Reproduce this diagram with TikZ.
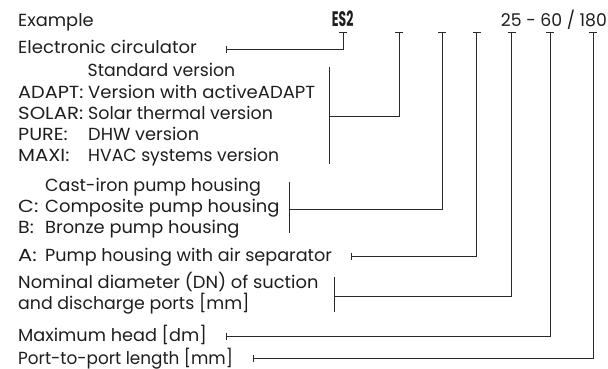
\documentclass[tikz,border=0pt]{standalone}
\usepackage{fontspec}
\usepackage{graphicx}
\setmainfont{Poppins}
\usetikzlibrary{arrows.meta}
\definecolor{txt}{HTML}{1E1E1E}
\definecolor{ln}{HTML}{2A2A2A}
\newcommand{\fs}{\fontsize{17.5}{20}\selectfont}
\newcommand{\fsb}{\fontsize{21}{24}\selectfont\bfseries}
\newcommand{\fitw}[2]{\resizebox{#1pt}{\height}{#2}}
\begin{document}
\begin{tikzpicture}[x=1pt,y=-1pt,
  lbl/.style={anchor=base west, inner sep=0pt, font=\fs, text=txt},
  conn/.style={draw=ln, line width=0.8pt},
  topbar/.style={-{Bar[width=8pt,line width=0.8pt]}},
  bothbar/.style={{Bar[width=7pt,line width=0.8pt]}-{Bar[width=8pt,line width=0.8pt]}}]
\useasboundingbox (0,0) rectangle (608,369);
% header
\node[lbl] (ex) at (18,27) {\fitw{75.5}{Example}};
\node[lbl,font=\fsb] (es2) at (331.7,27) {\fitw{21.5}{ES2}};
\node[lbl] (code) at (500.7,27) {\fitw{106}{25 - 60 / 180}};
% labels
\node[lbl] (elec) at (18,54) {\fitw{178.7}{Electronic circulator}};
\node[lbl] (std) at (87.5,77) {\fitw{147.5}{Standard version}};
\node[lbl] (adk) at (18,99) {\fitw{65.3}{ADAPT:}};
\node[lbl] (adv) at (88,99) {\fitw{227}{Version with activeADAPT}};
\node[lbl] (sok) at (18,119.5) {\fitw{65}{SOLAR:}};
\node[lbl] (sov) at (88,119.5) {\fitw{184.7}{Solar thermal version}};
\node[lbl] (puk) at (18,140) {\fitw{49.5}{PURE:}};
\node[lbl] (puv) at (88,140) {\fitw{111}{DHW version}};
\node[lbl] (mak) at (18,161) {\fitw{51.3}{MAXI:}};
\node[lbl] (mav) at (88,161) {\fitw{191}{HVAC systems version}};
\node[lbl] (cih) at (45,191) {\fitw{215.7}{Cast-iron pump housing}};
\node[lbl] (ck) at (18,212) {\fitw{20.2}{C:}};
\node[lbl] (cv) at (45,212) {\fitw{234.3}{Composite pump housing}};
\node[lbl] (bk) at (18,233.5) {\fitw{15.7}{B:}};
\node[lbl] (bv) at (45,233.5) {\fitw{194.3}{Bronze pump housing}};
\node[lbl] (ak) at (18,261) {\fitw{18.8}{A:}};
\node[lbl] (av) at (45,261) {\fitw{286.7}{Pump housing with air separator}};
\node[lbl] (nom1) at (18,288) {\fitw{300.3}{Nominal diameter (DN) of suction}};
\node[lbl] (nom2) at (18,309) {\fitw{231.3}{and discharge ports [mm]}};
\node[lbl] (mh) at (18,341) {\fitw{188.7}{Maximum head [dm]}};
\node[lbl] (pp) at (18,364) {\fitw{214.7}{Port-to-port length [mm]}};
% top tick points
\coordinate (t1) at (343.3,32.3);
\coordinate (t2) at (399,32.3);
\coordinate (t3) at (442.3,32.3);
\coordinate (t4) at (476.7,32.3);
\coordinate (t5) at (511.7,32.3);
\coordinate (t6) at (550,32.3);
\coordinate (t7) at (593.3,32.3);
% left ends
\coordinate (e1) at (225.7,49.3);
\coordinate (vb1) at (329.7,66.7);
\coordinate (vb2) at (329.7,164.3);
\coordinate (vm) at (329.7,116);
\coordinate (hb1) at (289.3,181.7);
\coordinate (hb2) at (289.3,233.3);
\coordinate (hm) at (289.3,209.3);
\coordinate (a1) at (350.7,256);
\coordinate (nb1) at (334,276.7);
\coordinate (nb2) at (334,311.7);
\coordinate (nm) at (334,296);
\coordinate (m1) at (225.7,336.7);
\coordinate (p1) at (253.3,358.3);
% connectors
\draw[conn,bothbar] (e1) -| (t1);
\draw[conn] (vb1) -- (vb2);
\draw[conn,topbar] (vm) -| (t2);
\draw[conn] (hb1) -- (hb2);
\draw[conn,topbar] (hm) -| (t3);
\draw[conn,bothbar] (a1) -| (t4);
\draw[conn] (nb1) -- (nb2);
\draw[conn,topbar] (nm) -| (t5);
\draw[conn,bothbar] (m1) -| (t6);
\draw[conn,bothbar] (p1) -| (t7);
\end{tikzpicture}
\end{document}
